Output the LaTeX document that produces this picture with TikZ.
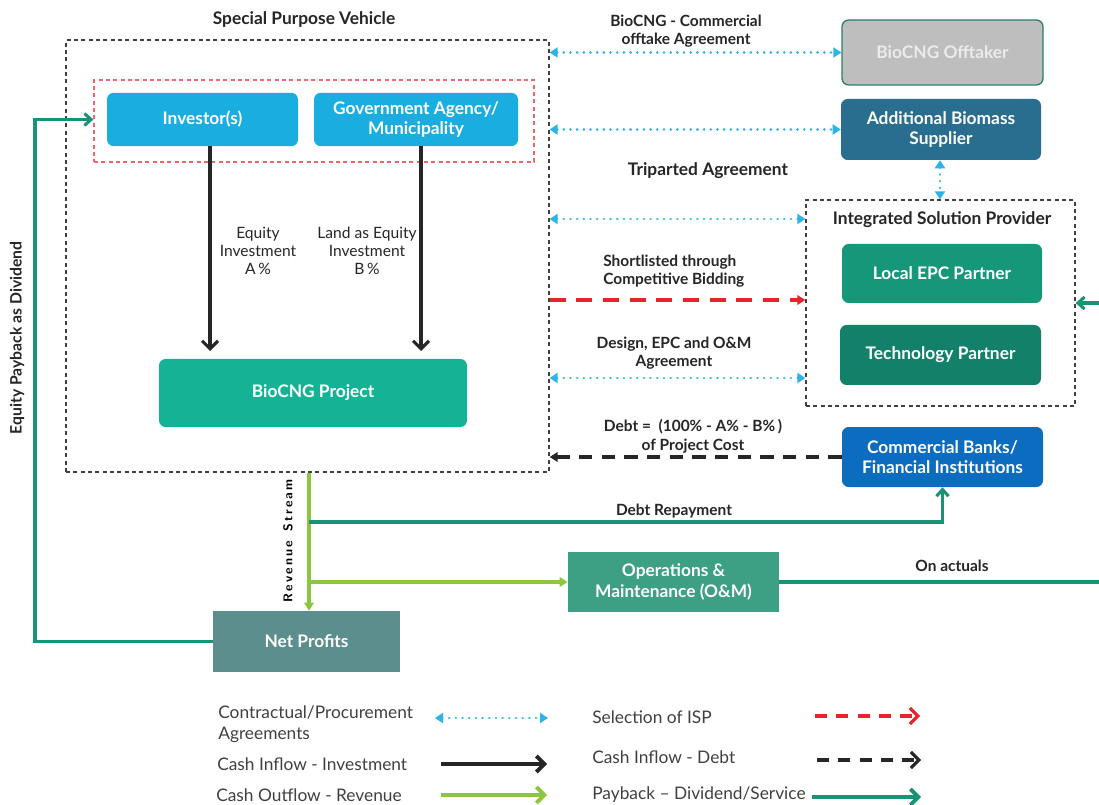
\documentclass[tikz,border=0pt]{standalone}
\usepackage{fontspec}
\setmainfont{Lato}
\usetikzlibrary{arrows.meta,calc}
\definecolor{cyanc}{HTML}{2BB5E6}
\definecolor{invc}{HTML}{1AADE0}
\definecolor{projc}{HTML}{14B395}
\definecolor{offc}{HTML}{BEBEBE}
\definecolor{offb}{HTML}{2E7D6B}
\definecolor{bioc}{HTML}{2A6E8F}
\definecolor{epcc}{HTML}{16977A}
\definecolor{techc}{HTML}{13806A}
\definecolor{bankc}{HTML}{0B6CC0}
\definecolor{omc}{HTML}{3D9F83}
\definecolor{npc}{HTML}{5B8E8C}
\definecolor{tealc}{HTML}{1A9276}
\definecolor{lgreen}{HTML}{8CC63E}
\definecolor{redc}{HTML}{E8232A}
\definecolor{txt}{HTML}{262626}
\definecolor{legt}{HTML}{404040}
\begin{document}
\begin{tikzpicture}[x=0.75pt,y=-0.75pt,
  box/.style={rectangle, rounded corners=5pt, text=white, font=\bfseries\fontsize{13}{15.5}\selectfont, align=center, inner sep=0pt},
  sqbox/.style={rectangle, text=white, font=\bfseries\fontsize{13}{15.5}\selectfont, align=center, inner sep=0pt},
  frame/.style={rectangle, draw=black!75, line width=0.9pt, dash pattern=on 3pt off 2.5pt, inner sep=0pt},
  lbl/.style={font=\bfseries\fontsize{11.6}{14}\selectfont, text=txt, align=center, inner sep=0pt},
  ttl/.style={font=\bfseries\fontsize{13}{15}\selectfont, text=txt, align=center, inner sep=0pt},
  rlbl/.style={font=\fontsize{11.7}{13.6}\selectfont, text=txt, align=center, inner sep=0pt},
  legtext/.style={font=\fontsize{13}{15.5}\selectfont, text=legt, align=left, anchor=west, inner sep=0pt},
  agree/.style={draw=cyanc, line width=2.1pt, dash pattern=on 0.01pt off 5pt, line cap=round, {Triangle[length=6pt,width=7.5pt]}-{Triangle[length=6pt,width=7.5pt]}},
  invest/.style={draw=black!85, line width=2.3pt, -{Straight Barb[length=6pt,width=12pt]}},
  revenue/.style={draw=lgreen, line width=2.3pt, -{Triangle[length=6pt,width=7pt]}},
  payback/.style={draw=tealc, line width=2.3pt, -{Straight Barb[length=5pt,width=9pt]}},
  debt/.style={draw=black!85, line width=2.3pt, dash pattern=on 10pt off 7pt, -{Triangle[length=6pt,width=7pt]}},
  select/.style={draw=redc, line width=2.3pt, dash pattern=on 12pt off 8pt, -{Triangle[length=6pt,width=7pt]}}
]
\useasboundingbox (0,0) rectangle (1099,805);
\clip (0,0) rectangle (1099,805);
\fill[white] (0,0) rectangle (1099,805);

% SPV frame and group
\node[frame, minimum width=362.25pt, minimum height=324pt] (spv) at (307.5,256) {};
\node[ttl] (spvt) at (304,20) {Special Purpose Vehicle};
\node[frame, draw=redc!70, minimum width=330pt, minimum height=61.5pt] (grp) at (314,121) {};
\node[box, fill=invc, minimum width=143.25pt, minimum height=40pt] (inv) at (202.5,119.5) {Investor(s)};
\node[box, fill=invc, minimum width=153pt, minimum height=40pt] (gov) at (416,119.5) {Government Agency/\\Municipality};
\node[box, fill=projc, minimum width=231pt, minimum height=51pt] (proj) at (313,393) {BioCNG Project};

\draw[invest] (inv.south -| 210,0) -- (210,351);
\draw[invest] (gov.south -| 421,0) -- (421,351);
\node[rlbl] (eqa) at (258,251) {Equity\\Investment\\A\,\%};
\node[rlbl] (eqb) at (367,251) {Land as Equity\\Investment\\B\,\%};

% right side boxes
\node[box, fill=offc, draw=offb, line width=1pt, text=white!92!black, minimum width=150.75pt, minimum height=48.75pt] (off) at (942.5,52.5) {BioCNG Offtaker};
\node[box, fill=bioc, minimum width=150pt, minimum height=45.75pt] (bio) at (941,129.5) {Additional Biomass\\Supplier};
\node[frame, minimum width=201.75pt, minimum height=154.5pt] (isp) at (940.5,303) {};
\node[ttl] (ispt) at (942,220) {Integrated Solution Provider};
\node[box, fill=epcc, minimum width=150pt, minimum height=44.25pt] (epc) at (942,273.5) {Local EPC Partner};
\node[box, fill=techc, minimum width=150.75pt, minimum height=45pt] (tech) at (940.5,355) {Technology Partner};
\node[box, fill=bankc, minimum width=150.75pt, minimum height=45pt] (bank) at (942.5,457) {Commercial Banks/\\Financial Institutions};
\node[sqbox, fill=omc, minimum width=158.25pt, minimum height=45pt] (om) at (673.5,582) {Operations \&\\Maintenance (O\&M)};
\node[sqbox, fill=npc, minimum width=140.25pt, minimum height=45.75pt] (np) at (306.5,641.5) {Net Profits};

% agreement connectors
\coordinate (y219) at (0,219);
\coordinate (y300) at (0,300);
\coordinate (y378) at (0,378);
\coordinate (y522) at (0,522);
\coordinate (eqx) at (35,0);
\coordinate (revx) at (309,0);
\draw[agree] (spv.east |- off.west) -- (off.west);
\draw[agree] (spv.east |- bio.west) -- (bio.west);
\draw[agree] (spv.east |- y219) -- (isp.west |- y219);
\draw[select] (spv.east |- y300) -- (isp.west |- y300);
\draw[agree] (spv.east |- y378) -- (isp.west |- y378);
\draw[agree] (bio.south -| 940,0) -- (isp.north -| 940,0);
\draw[debt] (bank.west) -- (spv.east |- bank.west);

\node[lbl] (l1) at (686,31) {BioCNG - Commercial\\offtake Agreement};
\node[ttl] (l2) at (708,171) {Triparted Agreement};
\node[lbl, align=left, anchor=west] (l3) at (603,271) {Shortlisted through\\Competitive Bidding};
\node[lbl] (l4) at (674,353) {Design, EPC and O\&M\\Agreement};
\node[lbl] (l5) at (693,436) {Debt =\ \ (100\% - A\% - B\%\,)\\of Project Cost};

% revenue / payback flows
\draw[revenue] (revx |- spv.south) -- (revx |- np.north);
\draw[revenue] (revx |- om.west) -- (om.west);
\draw[payback] (revx |- y522) -| (bank.south);
\node[lbl] (l6) at (674,511) {Debt Repayment};
\draw[payback] (om.east) -- (1115,582) |- (isp.east);
\node[lbl] (l7) at (952,566) {On actuals};
\draw[payback] (np.west) -- (np.west -| eqx) -- (eqx |- inv.west) -- (grp.west |- inv.west);
\node[lbl, rotate=90, text=black, font=\bfseries\sffamily\fontsize{9.5}{11}\selectfont] (l8) at (288,541) {R\,e\,v\,e\,n\,u\,e\ \ S\,t\,r\,e\,a\,m};
\node[lbl, rotate=90, font=\bfseries\fontsize{11.8}{14}\selectfont] (l9) at (17,338) {Equity Payback as Dividend};

% legend
\node[legtext] (g1) at (218,724) {Contractual/Procurement\\Agreements};
\coordinate (g1a) at (435,718);
\coordinate (g1b) at (548,718);
\draw[agree] (g1a) -- (g1b);
\node[legtext] (g2) at (217,764) {Cash Inflow - Investment};
\coordinate (g2a) at (441,764);
\coordinate (g2b) at (547,764);
\draw[invest, line width=2.8pt] (g2a) -- (g2b);
\node[legtext] (g3) at (216,795) {Cash Outflow - Revenue};
\coordinate (g3a) at (441,795);
\coordinate (g3b) at (547,795);
\draw[revenue, line width=2.8pt, -{Straight Barb[length=6pt,width=12pt]}] (g3a) -- (g3b);
\node[legtext] (g4) at (592,717) {Selection of ISP};
\coordinate (g4a) at (815,716);
\coordinate (g4b) at (920,716);
\draw[select, dash pattern=on 9pt off 7pt, -{Straight Barb[length=6pt,width=12pt]}] (g4a) -- (g4b);
\node[legtext] (g5) at (592,757) {Cash Inflow - Debt};
\coordinate (g5a) at (817,760);
\coordinate (g5b) at (921,760);
\draw[debt, dash pattern=on 9pt off 7pt, -{Straight Barb[length=6pt,width=12pt]}] (g5a) -- (g5b);
\node[legtext] (g6) at (592,795) {Payback -- Dividend/Service};
\coordinate (g6a) at (812,797);
\coordinate (g6b) at (921,797);
\draw[payback, line width=2.8pt, -{Straight Barb[length=6pt,width=12pt]}] (g6a) -- (g6b);
\end{tikzpicture}
\end{document}
